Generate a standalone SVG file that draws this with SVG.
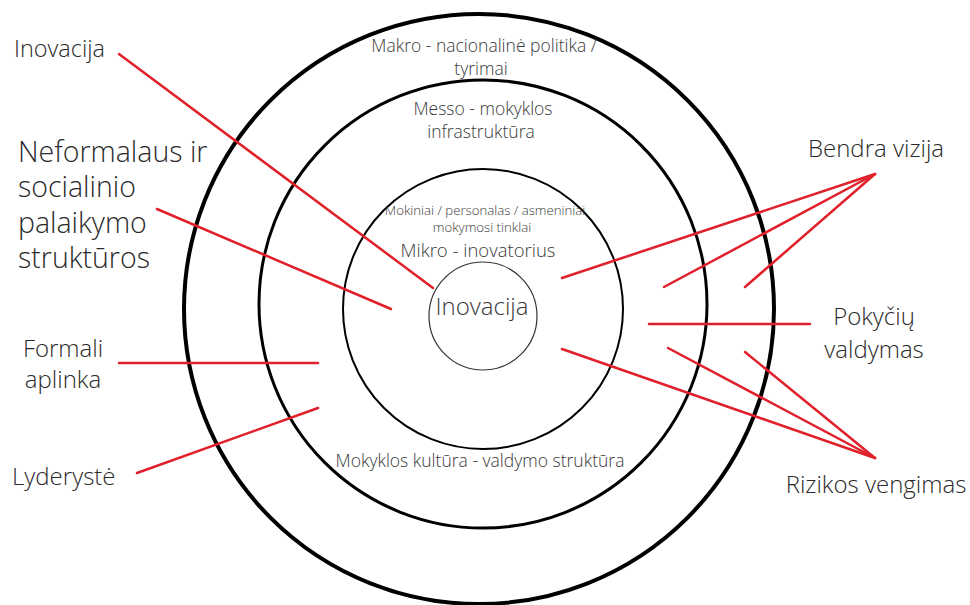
<svg xmlns="http://www.w3.org/2000/svg" width="970" height="605" viewBox="0 0 970 605">
  <style>
    .ring { fill: none; stroke: #000; }
    .lbl { font-family: "Open Sans", "Liberation Sans", sans-serif; font-weight: 300; fill: #2a2a2a; }
    .lvl { font-family: "Open Sans", "Liberation Sans", sans-serif; font-weight: 300; fill: #3a3a3a; text-anchor: middle; }
    .link { stroke: #e0202a; stroke-width: 2.5; stroke-linecap: round; fill: none; }
  </style>
  <rect width="970" height="605" fill="#fff"/>

  <!-- concentric levels -->
  <g id="makro">
    <circle class="ring" cx="479" cy="309" r="295" stroke-width="4"/>
    <text class="lvl" x="484" y="52" font-size="17.5">Makro - nacionalinė politika /</text>
    <text class="lvl" x="481" y="75" font-size="17.5">tyrimai</text>
  </g>
  <g id="messo">
    <circle class="ring" cx="483" cy="304" r="224" stroke-width="3"/>
    <text class="lvl" x="483" y="115" font-size="17.5">Messo - mokyklos</text>
    <text class="lvl" x="481" y="138" font-size="17.5">infrastruktūra</text>
    <text class="lvl" x="480" y="467" font-size="17.5">Mokyklos kultūra - valdymo struktūra</text>
  </g>
  <g id="mikro">
    <circle class="ring" cx="483" cy="309" r="140" stroke-width="2"/>
    <text class="lvl" x="485" y="215" font-size="13.2">Mokiniai / personalas / asmeniniai</text>
    <text class="lvl" x="482" y="232" font-size="13.2">mokymosi tinklai</text>
    <text class="lvl" x="478" y="257" font-size="18.5">Mikro - inovatorius</text>
  </g>
  <g id="inovacija-core">
    <circle cx="483" cy="316" r="54" fill="none" stroke="#333" stroke-width="1.2"/>
    <text class="lvl" x="482" y="315" font-size="24">Inovacija</text>
  </g>

  <!-- side labels -->
  <g id="lbl-inovacija">
    <text class="lbl" x="14" y="57" font-size="23.5">Inovacija</text>
  </g>
  <g id="lbl-neformalaus">
    <text class="lbl" x="18" y="162" font-size="28.5">Neformalaus ir</text>
    <text class="lbl" x="18" y="197" font-size="28.5">socialinio</text>
    <text class="lbl" x="18" y="233" font-size="28.5">palaikymo</text>
    <text class="lbl" x="18" y="268" font-size="28.5">struktūros</text>
  </g>
  <g id="lbl-formali">
    <text class="lbl" x="63" y="357" font-size="24" text-anchor="middle">Formali</text>
    <text class="lbl" x="63" y="388" font-size="24" text-anchor="middle">aplinka</text>
  </g>
  <g id="lbl-lyderyste">
    <text class="lbl" x="12" y="485" font-size="24">Lyderystė</text>
  </g>
  <g id="lbl-bendra">
    <text class="lbl" x="876" y="157" font-size="24" text-anchor="middle">Bendra vizija</text>
  </g>
  <g id="lbl-pokyciu">
    <text class="lbl" x="874" y="325" font-size="24" text-anchor="middle">Pokyčių</text>
    <text class="lbl" x="874" y="358" font-size="24" text-anchor="middle">valdymas</text>
  </g>
  <g id="lbl-rizikos">
    <text class="lbl" x="876" y="493" font-size="24" text-anchor="middle">Rizikos vengimas</text>
  </g>

  <!-- connectors -->
  <g id="connectors">
    <line class="link" x1="119" y1="54" x2="433" y2="288"/>
    <line class="link" x1="157" y1="209" x2="391" y2="309"/>
    <line class="link" x1="119" y1="363" x2="318" y2="363"/>
    <line class="link" x1="137" y1="473" x2="318" y2="408"/>
    <line class="link" x1="875" y1="174" x2="562" y2="278"/>
    <line class="link" x1="875" y1="174" x2="664" y2="287"/>
    <line class="link" x1="875" y1="174" x2="745" y2="287"/>
    <line class="link" x1="649" y1="324" x2="810" y2="324"/>
    <line class="link" x1="875" y1="458" x2="562" y2="349"/>
    <line class="link" x1="875" y1="458" x2="668" y2="348"/>
    <line class="link" x1="875" y1="458" x2="745" y2="352"/>
  </g>
</svg>
